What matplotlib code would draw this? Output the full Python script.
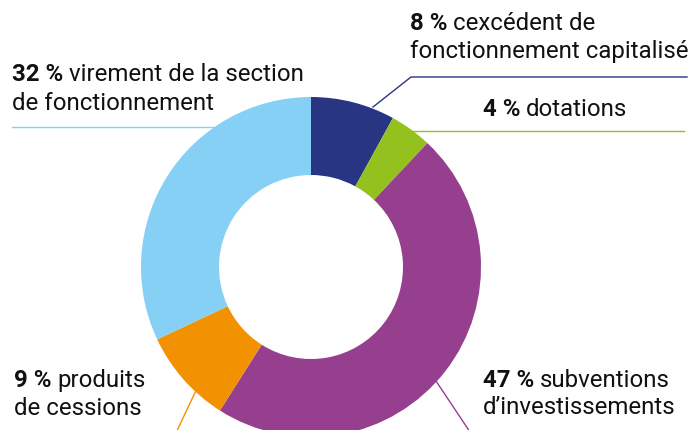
import matplotlib
matplotlib.use("Agg")
import matplotlib.pyplot as plt

# Data
labels = ["cexcédent de\nfonctionnement capitalisé", "dotations",
          "subventions\nd’investissements", "produits\nde cessions",
          "virement de la section\nde fonctionnement"]
values = [8, 4, 47, 9, 32]
colors = ["#283583", "#95C11F", "#963F8E", "#F39200", "#86D0F5"]

W, H = 691, 430
fig = plt.figure(figsize=(W / 100, H / 100), dpi=100)
ax = fig.add_axes([0, 0, 1, 1])

def Y(y):
    return H - y

cx, cy, R, ring = 311, 267, 170, 78

# leader lines (drawn beneath the donut)
lw = 1.0
ax.plot([373, 411, 687], [Y(107), Y(77), Y(77)], color=colors[0], lw=lw, zorder=1)
ax.plot([410, 684], [Y(130.5), Y(130.5)], color=colors[1], lw=lw, zorder=1)
ax.plot([430, 472], [Y(372), Y(435)], color=colors[2], lw=lw, zorder=1)
ax.plot([200, 175], [Y(382), Y(435)], color=colors[3], lw=lw, zorder=1)
ax.plot([12, 220], [Y(127), Y(127)], color=colors[4], lw=lw, zorder=1)

wedges, _ = ax.pie(values, colors=colors, startangle=90, counterclock=False,
                   radius=R, center=(cx, Y(cy)),
                   wedgeprops=dict(width=ring, edgecolor="none", linewidth=0))
for w in wedges:
    w.set_zorder(2)

ax.set_xlim(0, W)
ax.set_ylim(0, H)
ax.set_aspect("equal")
ax.axis("off")

FS = 17.3
fam = ["Roboto", "DejaVu Sans"]
TXT = "#111111"

def head(x, y, pct, text):
    t1 = ax.text(x, Y(y), f"{pct} %", fontsize=FS, fontweight="bold",
                 family=fam, va="baseline", ha="left", color=TXT)
    ax.annotate(text, xy=(1, 0), xycoords=t1, xytext=(4, 0),
                textcoords="offset points", fontsize=FS, family=fam,
                va="bottom", ha="left", color=TXT)

def label(x, y, pct, text, dy=28.5):
    first, second = text.split("\n")
    head(x, y, pct, first)
    ax.text(x, Y(y + dy), second, fontsize=FS, family=fam,
            va="baseline", ha="left", color=TXT)

label(410, 30, values[0], labels[0], dy=28)
head(483, 116, values[1], labels[1])
label(483, 387, values[2], labels[2], dy=27)
label(14, 387, values[3], labels[3], dy=28)
label(12, 81, values[4], labels[4], dy=29)

fig.savefig("out.png", dpi=100)
